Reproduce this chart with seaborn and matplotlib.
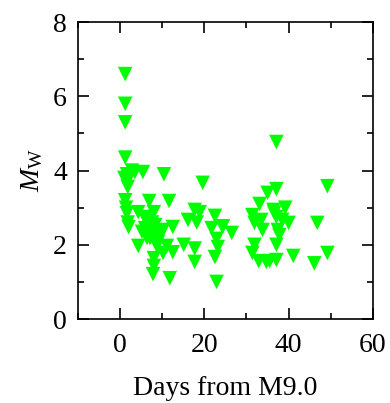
import matplotlib
matplotlib.use("Agg")
import matplotlib.pyplot as plt
import seaborn as sns
import pandas as pd
from matplotlib.ticker import MultipleLocator

days = [1.2, 1.2, 1.2, 1.2, 1.6, 3.5, 5.4, 1.6, 1.8, 10.4, 19.6,
        1.2, 1.4, 1.6, 1.8, 2.0, 4.3, 6.9, 8.0, 11.6, 6.1, 5.9, 7.1, 8.3,
        9.5, 10.2, 12.5, 4.3, 7.1, 8.7, 11.1, 10.2, 12.5, 8.0, 8.0, 7.8,
        11.8, 15.1, 17.7, 17.7, 16.1, 17.7, 18.9, 18.2, 21.7, 22.5, 24.3,
        22.9, 23.2, 22.5, 22.9, 37.1, 49.2, 35.0, 37.1, 33.1, 36.4, 39.2,
        31.4, 37.1, 31.9, 33.8, 37.4, 40.0, 37.8, 46.8, 24.4, 26.5, 31.9,
        31.4, 32.9, 35.5, 37.1, 37.1, 41.1, 46.1, 49.2, 5.2, 6.4, 7.6, 9.0,
        36.6, 38.5, 33.5, 34.7, 2.8, 1.0, 6.5, 9.2]
mw = [6.6, 5.8, 5.3, 4.35, 3.9, 3.96, 3.96, 3.7, 3.56, 3.9, 3.67,
      3.2, 3.0, 2.85, 2.6, 2.48, 2.88, 3.18, 2.88, 3.18, 2.67, 2.45, 2.4, 2.53,
      2.35, 2.4, 2.48, 1.97, 2.18, 1.97, 1.97, 1.78, 1.8, 1.64, 1.43, 1.21,
      1.1, 2.0, 1.9, 1.54, 2.67, 2.94, 2.88, 2.6, 2.45, 2.78, 2.48,
      2.16, 1.94, 1.67, 1.0, 4.77, 3.58, 3.4, 3.5, 3.1, 2.94, 3.0,
      2.8, 2.75, 2.59, 2.4, 2.4, 2.59, 2.26, 2.59, 2.5, 2.32, 2.0,
      1.78, 1.56, 1.56, 1.59, 2.0, 1.7, 1.5, 1.78, 2.35, 2.18, 2.6, 2.08,
      2.86, 2.67, 2.67, 1.54, 4.0, 3.8, 2.75, 2.2]

df = pd.DataFrame({"days": days, "mw": mw})

sns.set_style("ticks")
plt.rcParams['font.family'] = ['Liberation Serif', 'DejaVu Serif']
plt.rcParams['mathtext.fontset'] = 'custom'
plt.rcParams['mathtext.rm'] = 'Liberation Serif'
plt.rcParams['mathtext.it'] = 'Liberation Serif:italic'

fig = plt.figure(figsize=(3.9, 4.03), dpi=100)
ax = fig.add_axes([0.2, 0.2084, 0.756, 0.7366])
sns.scatterplot(data=df, x="days", y="mw", marker="v", s=110, color="#00ff00",
                edgecolor="none", linewidth=0, ax=ax, zorder=3)

ax.set_xlim(-10, 60)
ax.set_ylim(0, 8)
ax.xaxis.set_major_locator(MultipleLocator(20))
ax.xaxis.set_minor_locator(MultipleLocator(10))
ax.yaxis.set_major_locator(MultipleLocator(2))
ax.yaxis.set_minor_locator(MultipleLocator(1))
ax.tick_params(which='both', direction='in', top=True, right=True, labelsize=20,
               width=1.2, color='black', labelcolor='black')
ax.tick_params(axis='x', which='both', pad=10)
ax.tick_params(axis='y', which='both', pad=8)
ax.tick_params(which='major', length=8)
ax.tick_params(which='minor', length=4)
for sp in ax.spines.values():
    sp.set_visible(True)
    sp.set_linewidth(1.2)
    sp.set_color('black')
ax.set_xlabel("Days from M9.0", fontsize=20, labelpad=13, color='black')
ax.set_ylabel(r"$M_\mathrm{W}$", fontsize=20, labelpad=6, color='black')

fig.savefig("out.png", dpi=100)
